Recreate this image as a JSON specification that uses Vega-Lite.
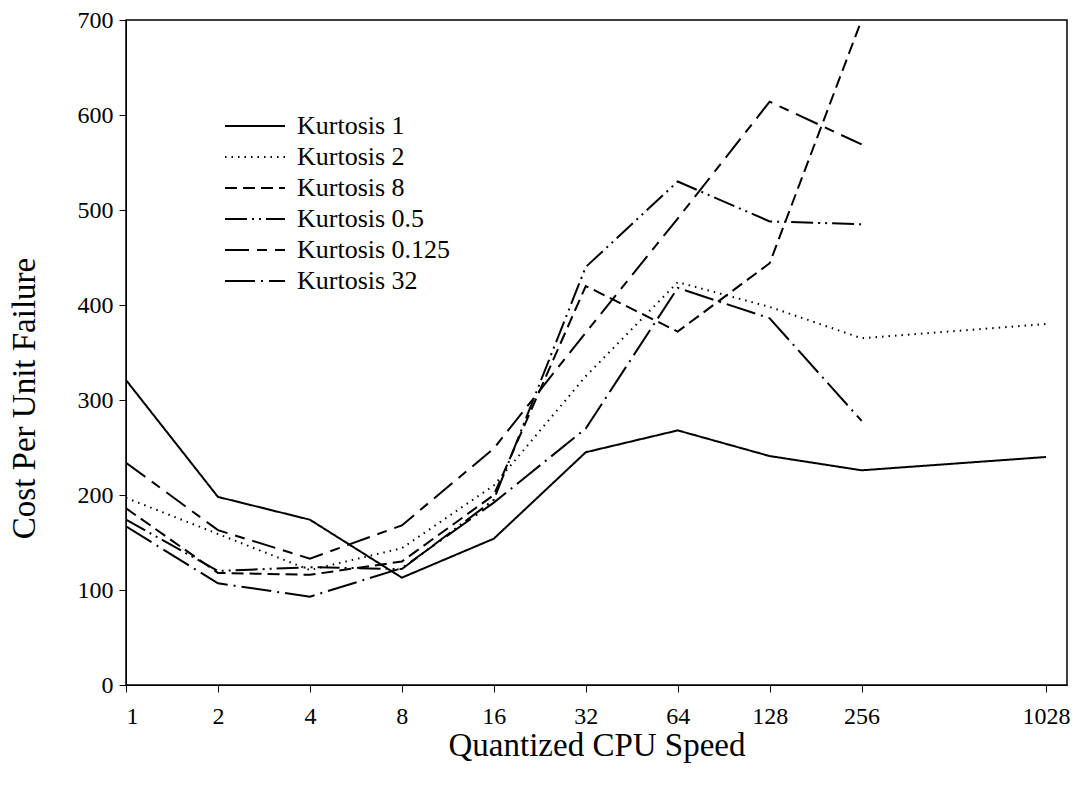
{
  "$schema": "https://vega.github.io/schema/vega-lite/v6.json",
  "width": 941,
  "height": 665,
  "autosize": {"type": "none"},
  "padding": {"left": 126, "top": 20, "right": 6, "bottom": 109},
  "background": "white",
  "config": {
    "view": {"stroke": "black", "strokeWidth": 1.5},
    "font": "Liberation Serif",
    "axis": {
      "labelFont": "Liberation Serif",
      "titleFont": "Liberation Serif",
      "labelColor": "black",
      "titleColor": "black",
      "labelFontSize": 24,
      "titleFontSize": 33,
      "titleFontWeight": "normal",
      "domainColor": "black",
      "tickColor": "black",
      "tickSize": 7,
      "grid": false
    },
    "legend": {
      "labelFont": "Liberation Serif",
      "labelFontSize": 26,
      "labelColor": "black"
    }
  },
  "data": {
    "values": [
      {"speed": 1, "cost": 321, "series": "Kurtosis 1"},
      {"speed": 2, "cost": 198, "series": "Kurtosis 1"},
      {"speed": 4, "cost": 174, "series": "Kurtosis 1"},
      {"speed": 8, "cost": 113, "series": "Kurtosis 1"},
      {"speed": 16, "cost": 154, "series": "Kurtosis 1"},
      {"speed": 32, "cost": 245, "series": "Kurtosis 1"},
      {"speed": 64, "cost": 268, "series": "Kurtosis 1"},
      {"speed": 128, "cost": 241, "series": "Kurtosis 1"},
      {"speed": 256, "cost": 226, "series": "Kurtosis 1"},
      {"speed": 1028, "cost": 240, "series": "Kurtosis 1"},

      {"speed": 1, "cost": 197, "series": "Kurtosis 2"},
      {"speed": 2, "cost": 159, "series": "Kurtosis 2"},
      {"speed": 4, "cost": 121, "series": "Kurtosis 2"},
      {"speed": 8, "cost": 144, "series": "Kurtosis 2"},
      {"speed": 16, "cost": 210, "series": "Kurtosis 2"},
      {"speed": 32, "cost": 325, "series": "Kurtosis 2"},
      {"speed": 64, "cost": 424, "series": "Kurtosis 2"},
      {"speed": 128, "cost": 398, "series": "Kurtosis 2"},
      {"speed": 256, "cost": 365, "series": "Kurtosis 2"},
      {"speed": 1028, "cost": 380, "series": "Kurtosis 2"},

      {"speed": 1, "cost": 186, "series": "Kurtosis 8"},
      {"speed": 2, "cost": 118, "series": "Kurtosis 8"},
      {"speed": 4, "cost": 116, "series": "Kurtosis 8"},
      {"speed": 8, "cost": 130, "series": "Kurtosis 8"},
      {"speed": 16, "cost": 200, "series": "Kurtosis 8"},
      {"speed": 32, "cost": 420, "series": "Kurtosis 8"},
      {"speed": 64, "cost": 372, "series": "Kurtosis 8"},
      {"speed": 128, "cost": 444, "series": "Kurtosis 8"},
      {"speed": 256, "cost": 700, "series": "Kurtosis 8"},

      {"speed": 1, "cost": 174, "series": "Kurtosis 0.5"},
      {"speed": 2, "cost": 120, "series": "Kurtosis 0.5"},
      {"speed": 4, "cost": 124, "series": "Kurtosis 0.5"},
      {"speed": 8, "cost": 122, "series": "Kurtosis 0.5"},
      {"speed": 16, "cost": 195, "series": "Kurtosis 0.5"},
      {"speed": 32, "cost": 440, "series": "Kurtosis 0.5"},
      {"speed": 64, "cost": 530, "series": "Kurtosis 0.5"},
      {"speed": 128, "cost": 488, "series": "Kurtosis 0.5"},
      {"speed": 256, "cost": 485, "series": "Kurtosis 0.5"},

      {"speed": 1, "cost": 234, "series": "Kurtosis 0.125"},
      {"speed": 2, "cost": 163, "series": "Kurtosis 0.125"},
      {"speed": 4, "cost": 133, "series": "Kurtosis 0.125"},
      {"speed": 8, "cost": 168, "series": "Kurtosis 0.125"},
      {"speed": 16, "cost": 249, "series": "Kurtosis 0.125"},
      {"speed": 32, "cost": 371, "series": "Kurtosis 0.125"},
      {"speed": 64, "cost": 491, "series": "Kurtosis 0.125"},
      {"speed": 128, "cost": 614, "series": "Kurtosis 0.125"},
      {"speed": 256, "cost": 569, "series": "Kurtosis 0.125"},

      {"speed": 1, "cost": 167, "series": "Kurtosis 32"},
      {"speed": 2, "cost": 107, "series": "Kurtosis 32"},
      {"speed": 4, "cost": 93, "series": "Kurtosis 32"},
      {"speed": 8, "cost": 123, "series": "Kurtosis 32"},
      {"speed": 16, "cost": 192, "series": "Kurtosis 32"},
      {"speed": 32, "cost": 270, "series": "Kurtosis 32"},
      {"speed": 64, "cost": 418, "series": "Kurtosis 32"},
      {"speed": 128, "cost": 386, "series": "Kurtosis 32"},
      {"speed": 256, "cost": 278, "series": "Kurtosis 32"}
    ]
  },
  "mark": {"type": "line", "color": "black", "strokeWidth": 2, "clip": true},
  "encoding": {
    "x": {
      "field": "speed",
      "type": "quantitative",
      "scale": {"type": "log", "base": 2, "domain": [1, 1204], "nice": false},
      "axis": {
        "values": [1, 2, 4, 8, 16, 32, 64, 128, 256, 1028],
        "format": "d",
        "labelPadding": 12,
        "title": "Quantized CPU Speed",
        "titlePadding": 1
      }
    },
    "y": {
      "field": "cost",
      "type": "quantitative",
      "scale": {"domain": [0, 700], "nice": false},
      "axis": {
        "values": [0, 100, 200, 300, 400, 500, 600, 700],
        "labelPadding": 6,
        "title": "Cost Per Unit Failure",
        "titlePadding": 36,
        "titleY": 378
      }
    },
    "strokeDash": {
      "field": "series",
      "type": "nominal",
      "scale": {
        "domain": ["Kurtosis 1", "Kurtosis 2", "Kurtosis 8", "Kurtosis 0.5", "Kurtosis 0.125", "Kurtosis 32"],
        "range": [[1, 0], [1.5, 5], [12, 6], [22, 5, 2, 5, 2, 5], [24, 8, 10, 8], [30, 6, 2, 6]]
      },
      "legend": {
        "title": null,
        "orient": "none",
        "legendX": 116,
        "legendY": 93,
        "symbolType": "M-3,0H3",
        "symbolSize": 400,
        "symbolStrokeColor": "black",
        "symbolStrokeWidth": 1.8,
        "labelOffset": 29,
        "rowPadding": 5
      }
    }
  }
}
